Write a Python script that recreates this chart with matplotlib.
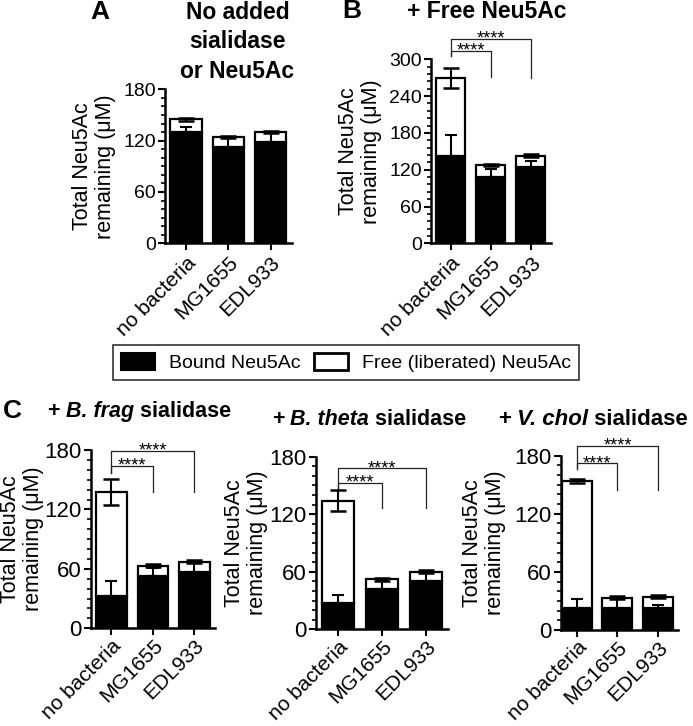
import matplotlib
matplotlib.use("Agg")
import matplotlib.pyplot as plt
from matplotlib.patches import Patch
from matplotlib.ticker import MultipleLocator

plt.rcParams["font.family"] = ["Liberation Sans", "DejaVu Sans"]

W, H = 693, 726

strains = ["no bacteria", "MG1655", "EDL933"]

# A: no added sialidase or Neu5Ac
a_total = [145, 124.5, 130]
a_total_err = [1.5, 1.5, 1.5]
a_bound = [130, 113, 118.5]
a_bound_err = [6, 10, 10]

# B: + free Neu5Ac
b_total = [270, 127.5, 143]
b_total_err = [16, 2, 2]
b_bound = [142, 108.5, 125]
b_bound_err = [35, 12, 10]

# C: + B. frag sialidase
frag_total = [137.5, 63, 67]
frag_total_err = [13, 1.5, 1.5]
frag_bound = [33, 52.5, 56.5]
frag_bound_err = [15, 8.5, 9]

# C: + B. theta sialidase
theta_total = [134, 52, 60]
theta_total_err = [11, 1.5, 1.5]
theta_bound = [27, 42, 50.5]
theta_bound_err = [9, 8, 8]

# C: + V. chol sialidase
chol_total = [153.5, 33.5, 34.5]
chol_total_err = [2, 1.5, 1.5]
chol_bound = [22.5, 23, 22.5]
chol_bound_err = [10, 9, 3.5]

# significance brackets (no bacteria vs MG1655, no bacteria vs EDL933)
bracket_to = [1, 2]
b_bracket_level = [314, 333]
b_bracket_drop = [271, 270]
b_bracket_left = 305
frag_bracket_level = [164, 179]
frag_bracket_drop = [138, 138]
frag_bracket_left = 157
theta_bracket_level = [153, 168]
theta_bracket_drop = [126, 126]
theta_bracket_left = 146
chol_bracket_level = [172, 190]
chol_bracket_drop = [145, 145]
chol_bracket_left = 166

fig = plt.figure(figsize=(W / 100, H / 100), dpi=100)


def px_axes(left, top, right, bottom):
    return fig.add_axes([left / W, 1 - bottom / H, (right - left) / W, (bottom - top) / H])


def ftext(x, y, s, **kw):
    return fig.text(x / W, 1 - y / H, s, **kw)


def draw_panel(ax, total, total_err, bound, bound_err, ymax, minor,
               tick_fs, xtick_fs, label_fs, labelpad, xpad, xleft=-0.5):
    x = range(len(strains))
    free = [t - b for t, b in zip(total, bound)]
    ax.bar(x, bound, width=0.74, color="black", edgecolor="black", linewidth=1.6, zorder=2)
    ax.bar(x, free, bottom=bound, width=0.74, color="white", edgecolor="black",
           linewidth=1.6, zorder=2)
    ax.errorbar(x, bound, yerr=[[0] * len(bound), bound_err], fmt="none", ecolor="black",
                elinewidth=1.5, capsize=4, capthick=1.5, zorder=3)
    ax.errorbar(x, total, yerr=total_err, fmt="none", ecolor="black",
                elinewidth=1.5, capsize=5.5, capthick=1.8, zorder=3)

    ax.set_xlim(xleft, 2.5)
    ax.set_ylim(0, ymax)
    ax.yaxis.set_major_locator(MultipleLocator(60))
    ax.yaxis.set_minor_locator(MultipleLocator(minor))
    ax.set_xticks(list(x))
    ax.set_xticklabels(strains, rotation=45, ha="right", va="top",
                       rotation_mode="anchor", fontsize=xtick_fs)
    for side in ["top", "right"]:
        ax.spines[side].set_visible(False)
    for side in ["left", "bottom"]:
        ax.spines[side].set_linewidth(1.8)
    ax.tick_params(axis="y", which="major", length=5, width=1.5, labelsize=tick_fs, pad=1.5)
    ax.tick_params(axis="y", which="minor", length=3, width=1.2)
    ax.tick_params(axis="x", which="major", length=5, width=1.5, pad=xpad)
    ax.set_ylabel("Total Neu5Ac\nremaining (μM)", fontsize=label_fs, labelpad=labelpad,
                  linespacing=1.15)


def draw_brackets(ax, levels, drops, left_end):
    for level, j, drop in zip(levels, bracket_to, drops):
        ax.plot([0, 0, j, j], [left_end, level, level, drop], color="#222222",
                lw=0.9, clip_on=False)
        ax.annotate("****", xy=(j / 2, level), xytext=(0, -3.5), textcoords="offset points",
                    ha="center", va="baseline", fontsize=13, annotation_clip=False)


# panel A
ax_a = px_axes(165, 89.3, 291.7, 243.3)
draw_panel(ax_a, a_total, a_total_err, a_bound, a_bound_err, 180, 10, 14, 15, 15.5, 5, 2)

# panel B
ax_b = px_axes(430.7, 59.3, 550.7, 243.3)
draw_panel(ax_b, b_total, b_total_err, b_bound, b_bound_err, 300, 12, 14, 15, 15.5, 5, 2)
draw_brackets(ax_b, b_bracket_level, b_bracket_drop, b_bracket_left)

# panel C
ax_c1 = px_axes(90.7, 450, 215, 628.3)
draw_panel(ax_c1, frag_total, frag_total_err, frag_bound, frag_bound_err, 180, 10,
           16, 15, 15.5, 0, 0.5)
draw_brackets(ax_c1, frag_bracket_level, frag_bracket_drop, frag_bracket_left)

ax_c2 = px_axes(316, 456.7, 448, 629.3)
draw_panel(ax_c2, theta_total, theta_total_err, theta_bound, theta_bound_err, 180, 10,
           16, 15, 15.5, 1, 0.5)
draw_brackets(ax_c2, theta_bracket_level, theta_bracket_drop, theta_bracket_left)

ax_c3 = px_axes(560.7, 455.7, 678.3, 630)
draw_panel(ax_c3, chol_total, chol_total_err, chol_bound, chol_bound_err, 180, 10,
           16, 15, 15.5, 6, 0.5, xleft=-0.4)
draw_brackets(ax_c3, chol_bracket_level, chol_bracket_drop, chol_bracket_left)

# titles and panel letters
ftext(100, 12, "A", ha="center", va="center", fontsize=19, fontweight="bold")
ftext(237.5, 42, "No added\nsialidase\nor Neu5Ac", ha="center", va="center",
      fontsize=16.5, fontweight="bold", linespacing=1.38)
ftext(352, 11, "B", ha="center", va="center", fontsize=19, fontweight="bold")
ftext(487, 11, "+ Free Neu5Ac", ha="center", va="center", fontsize=16.5, fontweight="bold")
ftext(12, 411, "C", ha="center", va="center", fontsize=19, fontweight="bold")


def mixed_title(ax, x, y, name, size):
    first = ftext(x, y, "+", ha="left", va="center", fontsize=size, fontweight="bold")
    mid = ax.annotate(" " + name, xy=(1, 0), xycoords=first, ha="left", va="bottom",
                      fontsize=size, fontweight="bold", fontstyle="italic",
                      annotation_clip=False)
    ax.annotate(" sialidase", xy=(1, 0), xycoords=mid, ha="left", va="bottom",
                fontsize=size, fontweight="bold", annotation_clip=False)


mixed_title(ax_c1, 47, 412, "B. frag", 15.5)
mixed_title(ax_c2, 272, 420, "B. theta", 15.5)
mixed_title(ax_c3, 498, 420, "V. chol", 16)

# legend
handles = [Patch(facecolor="black", edgecolor="black", linewidth=1.5, label="Bound Neu5Ac"),
           Patch(facecolor="white", edgecolor="black", linewidth=2, label="Free (liberated) Neu5Ac")]
leg = fig.legend(handles=handles, loc="center", bbox_to_anchor=(346 / W, 1 - 362.5 / H),
                 ncol=2, frameon=True, fancybox=False, edgecolor="black", fontsize=14,
                 handlelength=1.75, handleheight=1.0, handletextpad=0.72,
                 columnspacing=0.72, borderpad=0.4, borderaxespad=0)
leg.get_frame().set_linewidth(1.2)

fig.savefig("out.png", dpi=100)
